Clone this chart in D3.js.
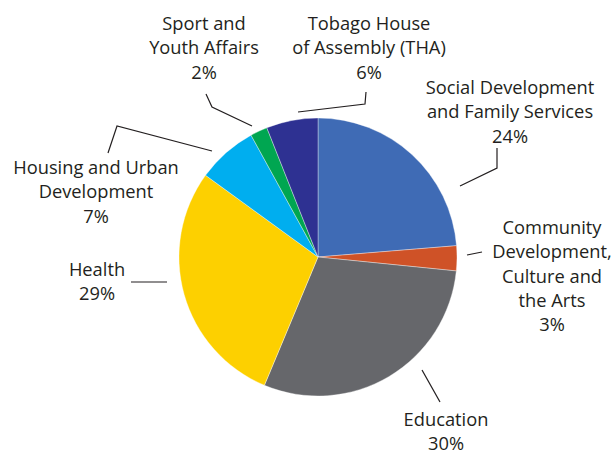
<!DOCTYPE html>
<html>
<head>
<meta charset="utf-8">
<script src="https://cdn.jsdelivr.net/npm/d3@7"></script>
<style>
  body { margin: 0; background: #fff; }
  svg text { font-family: "Open Sans", "Noto Sans", sans-serif; fill: #231f20; }
</style>
</head>
<body>
<div id="chart"></div>
<script>
// data, clockwise from 12 o'clock
const categories = [
  "Social Development and Family Services",
  "Community Development, Culture and the Arts",
  "Education",
  "Health",
  "Housing and Urban Development",
  "Sport and Youth Affairs",
  "Tobago House of Assembly (THA)"
];
const shares = [23.7, 2.9, 29.7, 28.7, 7.0, 2.0, 6.0];
const pctLabels = ["24%", "3%", "30%", "29%", "7%", "2%", "6%"];
const labelLines = [
  ["Social Development", "and Family Services"],
  ["Community", "Development,", "Culture and", "the Arts"],
  ["Education"],
  ["Health"],
  ["Housing and Urban", "Development"],
  ["Sport and", "Youth Affairs"],
  ["Tobago House", "of Assembly (THA)"]
];
const colors = ["#3f6bb5", "#cf5227", "#66676b", "#fdd000", "#00aeef", "#00a651", "#2e3192"];

// label layout: text centre x, first line y, leader polyline
const labelLayout = [
  { x: 510, y: 94, leader: [[497, 148], [497, 168], [460, 186]] },
  { x: 552, y: 234, leader: [[482, 252], [467, 255]] },
  { x: 446, y: 426, leader: [[440, 402], [422, 370]] },
  { x: 97, y: 276, leader: [[131, 282], [167, 282]] },
  { x: 96, y: 174, leader: [[108, 153], [117, 126], [212, 151]] },
  { x: 204, y: 30, leader: [[206, 94], [212, 107], [252, 126]] },
  { x: 369, y: 30, leader: [[366, 92], [365, 104], [298, 112]] }
];

const width = 614, height = 453;
const cx = 318, cy = 257, radius = 139;
const lineH = 24.3;

const svg = d3.select("#chart").append("svg")
  .attr("width", width)
  .attr("height", height);

const data = categories.map((c, i) => ({ name: c, value: shares[i], i: i }));

const pie = d3.pie().sort(null).value(d => d.value);
const arc = d3.arc().innerRadius(0).outerRadius(radius);

const g = svg.append("g").attr("transform", "translate(" + cx + "," + cy + ")");

g.selectAll(".slice")
  .data(pie(data))
  .enter().append("path")
  .attr("class", "slice")
  .attr("d", arc)
  .attr("fill", d => colors[d.data.i])
  .attr("stroke", "#fff")
  .attr("stroke-opacity", 0.6)
  .attr("stroke-width", 0.6);

// leader lines
const line = d3.line();
svg.selectAll(".leader")
  .data(labelLayout)
  .enter().append("path")
  .attr("class", "leader")
  .attr("d", d => line(d.leader))
  .attr("fill", "none")
  .attr("stroke", "#231f20")
  .attr("stroke-width", 1.2);

// labels
const labels = svg.selectAll(".label")
  .data(data)
  .enter().append("text")
  .attr("class", "label")
  .attr("text-anchor", "middle")
  .attr("font-size", 18.3);

labels.each(function(d) {
  const pos = labelLayout[d.i];
  const rows = labelLines[d.i].concat([pctLabels[d.i]]);
  d3.select(this).selectAll("tspan")
    .data(rows)
    .enter().append("tspan")
    .attr("x", pos.x)
    .attr("y", (r, k) => pos.y + k * lineH)
    .text(r => r);
});
</script>
</body>
</html>
